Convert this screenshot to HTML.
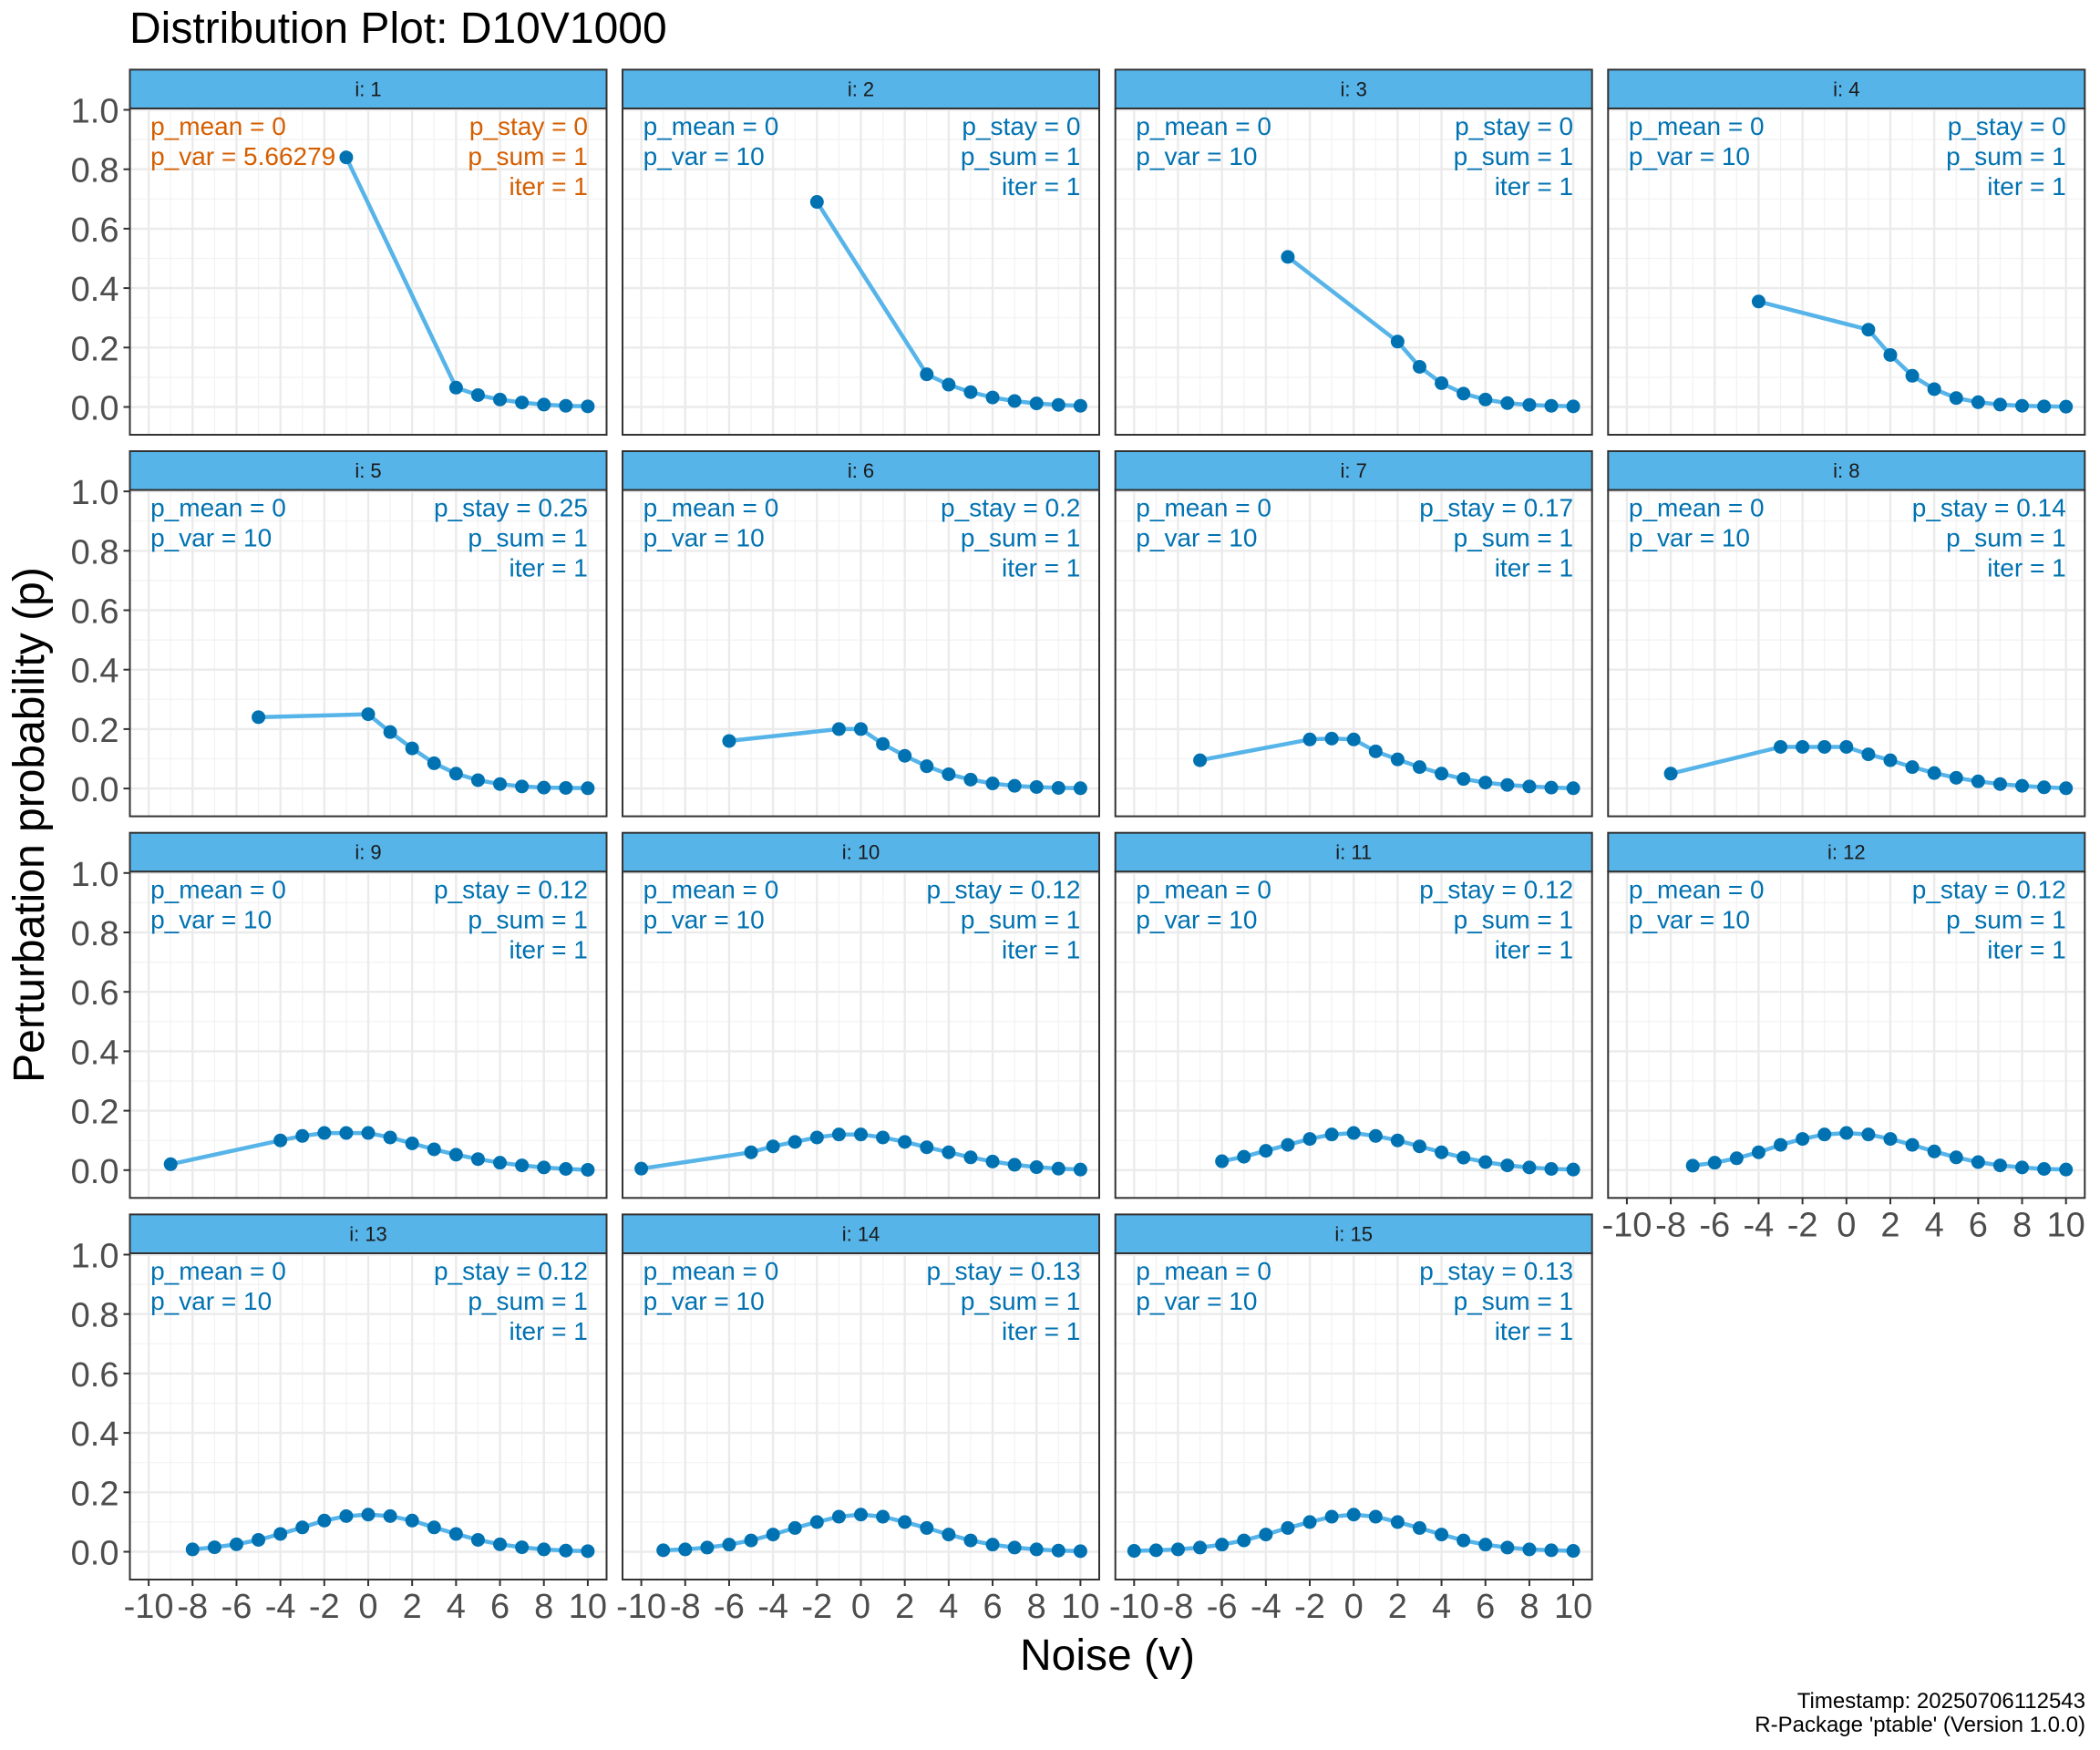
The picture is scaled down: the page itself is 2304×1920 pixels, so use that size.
<!DOCTYPE html>
<html><head><meta charset="utf-8">
<style>
html,body{margin:0;padding:0;background:#fff;}
svg{display:block;font-family:"Liberation Sans",sans-serif;}
</style></head>
<body>
<svg id="chart" width="2304" height="1920" viewBox="0 0 2304 1920" xmlns="http://www.w3.org/2000/svg">
<rect width="2304" height="1920" fill="#fff"/>
<text x="142" y="47" font-size="48" fill="#000">Distribution Plot: D10V1000</text>
<text x="1215" y="1832" font-size="48" text-anchor="middle" fill="#000">Noise (v)</text>
<text transform="translate(48,905) rotate(-90)" font-size="48" text-anchor="middle" fill="#000">Perturbation probability (p)</text>
<text x="2288" y="1874" font-size="24" text-anchor="end" fill="#000">Timestamp: 20250706112543</text>
<text x="2288" y="1900" font-size="24" text-anchor="end" fill="#000">R-Package 'ptable' (Version 1.0.0)</text>
<g id="panels"></g>
</svg>
<script>
const panelIds = [1,2,3,4,5,6,7,8,9,10,11,12,13,14,15];
const pStay = [0,0,0,0,0.25,0.2,0.17,0.14,0.12,0.12,0.12,0.12,0.12,0.13,0.13];
const pVar = ["5.66279","10","10","10","10","10","10","10","10","10","10","10","10","10","10"];
const xs1 = [-1,4,5,6,7,8,9,10];
const ys1 = [0.84,0.065,0.04,0.025,0.015,0.008,0.004,0.002];
const xs2 = [-2,3,4,5,6,7,8,9,10];
const ys2 = [0.69,0.11,0.075,0.05,0.032,0.02,0.012,0.007,0.004];
const xs3 = [-3,2,3,4,5,6,7,8,9,10];
const ys3 = [0.505,0.22,0.135,0.08,0.045,0.025,0.013,0.007,0.004,0.002];
const xs4 = [-4,1,2,3,4,5,6,7,8,9,10];
const ys4 = [0.355,0.26,0.175,0.105,0.06,0.03,0.016,0.008,0.004,0.002,0.001];
const xs5 = [-5,0,1,2,3,4,5,6,7,8,9,10];
const ys5 = [0.24,0.25,0.19,0.135,0.085,0.05,0.028,0.015,0.007,0.003,0.002,0.001];
const xs6 = [-6,-1,0,1,2,3,4,5,6,7,8,9,10];
const ys6 = [0.16,0.2,0.2,0.15,0.11,0.075,0.048,0.03,0.017,0.009,0.005,0.002,0.001];
const xs7 = [-7,-2,-1,0,1,2,3,4,5,6,7,8,9,10];
const ys7 = [0.095,0.165,0.168,0.165,0.125,0.098,0.072,0.05,0.032,0.02,0.012,0.007,0.003,0.001];
const xs8 = [-8,-3,-2,-1,0,1,2,3,4,5,6,7,8,9,10];
const ys8 = [0.05,0.14,0.14,0.14,0.14,0.115,0.095,0.072,0.052,0.036,0.024,0.015,0.009,0.004,0.001];
const xs9 = [-9,-4,-3,-2,-1,0,1,2,3,4,5,6,7,8,9,10];
const ys9 = [0.02,0.1,0.115,0.125,0.125,0.125,0.11,0.09,0.07,0.052,0.037,0.025,0.016,0.009,0.004,0.001];
const xs10 = [-10,-5,-4,-3,-2,-1,0,1,2,3,4,5,6,7,8,9,10];
const ys10 = [0.005,0.06,0.08,0.095,0.11,0.12,0.12,0.11,0.095,0.077,0.06,0.043,0.029,0.018,0.01,0.005,0.002];
const xs11 = [-6,-5,-4,-3,-2,-1,0,1,2,3,4,5,6,7,8,9,10];
const ys11 = [0.03,0.045,0.065,0.085,0.105,0.12,0.125,0.115,0.1,0.08,0.06,0.042,0.027,0.016,0.009,0.004,0.002];
const xs12 = [-7,-6,-5,-4,-3,-2,-1,0,1,2,3,4,5,6,7,8,9,10];
const ys12 = [0.015,0.025,0.04,0.06,0.085,0.105,0.12,0.125,0.12,0.105,0.085,0.063,0.043,0.027,0.016,0.009,0.004,0.002];
const xs13 = [-8,-7,-6,-5,-4,-3,-2,-1,0,1,2,3,4,5,6,7,8,9,10];
const ys13 = [0.008,0.015,0.025,0.04,0.06,0.082,0.105,0.12,0.125,0.12,0.105,0.082,0.06,0.04,0.025,0.015,0.008,0.004,0.002];
const xs14 = [-9,-8,-7,-6,-5,-4,-3,-2,-1,0,1,2,3,4,5,6,7,8,9,10];
const ys14 = [0.005,0.008,0.014,0.024,0.038,0.058,0.08,0.1,0.118,0.125,0.118,0.1,0.08,0.058,0.038,0.024,0.014,0.008,0.004,0.002];
const xs15 = [-10,-9,-8,-7,-6,-5,-4,-3,-2,-1,0,1,2,3,4,5,6,7,8,9,10];
const ys15 = [0.003,0.005,0.008,0.014,0.024,0.038,0.058,0.08,0.1,0.118,0.125,0.118,0.1,0.08,0.058,0.038,0.024,0.014,0.008,0.005,0.003];
const xTicks = [-10,-8,-6,-4,-2,0,2,4,6,8,10];
const xTickLabels = ["-10","-8","-6","-4","-2","0","2","4","6","8","10"];
const yTicks = [0,0.2,0.4,0.6,0.8,1.0];
const yTickLabels = ["0.0","0.2","0.4","0.6","0.8","1.0"];

const allX = [xs1,xs2,xs3,xs4,xs5,xs6,xs7,xs8,xs9,xs10,xs11,xs12,xs13,xs14,xs15];
const allY = [ys1,ys2,ys3,ys4,ys5,ys6,ys7,ys8,ys9,ys10,ys11,ys12,ys13,ys14,ys15];

const NS = "http://www.w3.org/2000/svg";
const root = document.getElementById('panels');
const colL = [142.5,683,1223.7,1764.3], PW = 523;
const rowT = [76.4,495,913.7,1332.4], SH = 42.6, PH = 358;
function mk(tag, attrs, parent){const e=document.createElementNS(NS,tag);for(const k in attrs)e.setAttribute(k,attrs[k]);parent.appendChild(e);return e;}
function xScale(v,left){return left + PW/2 + v*24.09;}
function yScale(v,top){return top + 327.5 - v*326;}

panelIds.forEach((id,i)=>{
  const c=i%4, r=Math.floor(i/4);
  const L=colL[c], T=rowT[r]+SH;
  const g=mk('g',{},root);
  
  
  const strip=mk('rect',{x:L,y:rowT[r],width:PW,height:SH,fill:'#56B4E9',stroke:'#333',"stroke-width":2},g);
  
  
  const st=mk('text',{x:L+PW/2,y:rowT[r]+29,"font-size":22,"text-anchor":"middle",fill:'#1a1a1a'},g);
  st.textContent='i: '+id;
  
  
  mk('rect',{x:L,y:T,width:PW,height:PH,fill:'#fff'},g);
  for(let v=-11;v<=11;v++){ if(v%2!==0){const x=xScale(v,L); if(x>L&&x<L+PW) mk('line',{x1:x,x2:x,y1:T,y2:T+PH,stroke:'#F2F2F2',"stroke-width":1.2},g);} }
  for(let k=-1;k<=10;k+=2){const y=yScale(k/10,T); if(y>T&&y<T+PH) mk('line',{x1:L,x2:L+PW,y1:y,y2:y,stroke:'#F2F2F2',"stroke-width":1.2},g);}
  xTicks.forEach(v=>{const x=xScale(v,L); mk('line',{x1:x,x2:x,y1:T,y2:T+PH,stroke:'#EBEBEB',"stroke-width":2.4},g);});
  yTicks.forEach(v=>{const y=yScale(v,T); mk('line',{x1:L,x2:L+PW,y1:y,y2:y,stroke:'#EBEBEB',"stroke-width":2.4},g);});
  const xsA=allX[i], ysA=allY[i];
  const pts=xsA.map((x,j)=>xScale(x,L).toFixed(1)+','+yScale(ysA[j],T).toFixed(1)).join(' ');
  const line=mk('polyline',{points:pts,fill:'none',stroke:'#56B4E9',"stroke-width":4.5,"stroke-linejoin":"round"},g);
  
  
  xsA.forEach((x,j)=>{
    const p=mk('circle',{cx:xScale(x,L),cy:yScale(ysA[j],T),r:7.5,fill:'#0072B2'},g);
    
    
  });
  mk('rect',{x:L,y:T,width:PW,height:PH,fill:'none',stroke:'#333',"stroke-width":2},g);
  const col = id===1?'#D55E00':'#0072B2';
  const lx=xScale(-10,L)+2, rx=xScale(10,L);
  const lines=[['p_mean = 0','start',lx,0],['p_var = '+pVar[i],'start',lx,1],['p_stay = '+pStay[i],'end',rx,0],['p_sum = 1','end',rx,1],['iter = 1','end',rx,2]];
  lines.forEach(a=>{
    const t=mk('text',{x:a[2],y:T+29+a[3]*33,"font-size":28,"text-anchor":a[1],fill:col},g);
    t.textContent=a[0];
    
    
  });
  if(c===0){
    yTicks.forEach((v,k)=>{const y=yScale(v,T);
      mk('line',{x1:L-7,x2:L,y1:y,y2:y,stroke:'#333',"stroke-width":2},g);
      const t=mk('text',{x:L-12,y:y+14,"font-size":38,"text-anchor":"end",fill:'#4D4D4D'},g);
      t.textContent=yTickLabels[k];
      
      
    });
  }
  if(r===3 || (r===2 && c===3)){
    xTicks.forEach((v,k)=>{const x=xScale(v,L);
      mk('line',{x1:x,x2:x,y1:T+PH,y2:T+PH+7,stroke:'#333',"stroke-width":2},g);
      const t=mk('text',{x:x,y:T+PH+42,"font-size":38,"text-anchor":"middle",fill:'#4D4D4D'},g);
      t.textContent=xTickLabels[k];
      
      
    });
  }
});
</script>
</body></html>
